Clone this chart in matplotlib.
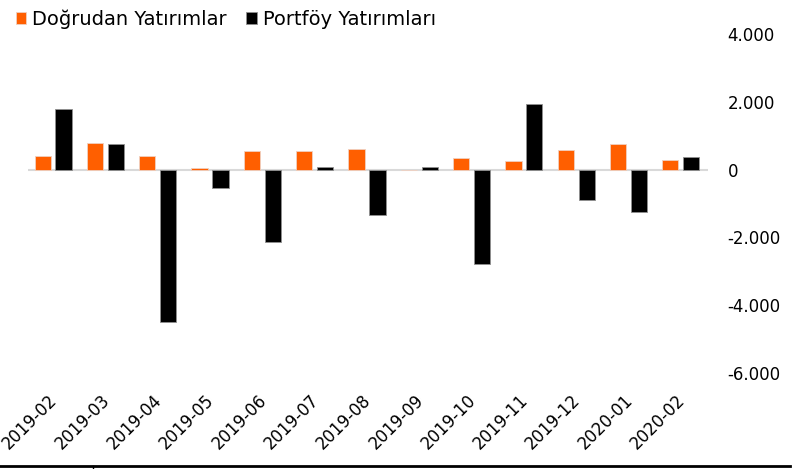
import numpy as np
import matplotlib.pyplot as plt
from matplotlib.lines import Line2D
from matplotlib.ticker import FuncFormatter
from matplotlib.transforms import ScaledTranslation

months = ['2019-02', '2019-03', '2019-04', '2019-05', '2019-06', '2019-07', '2019-08',
          '2019-09', '2019-10', '2019-11', '2019-12', '2020-01', '2020-02']
dogrudan = [410, 790, 410, 60, 560, 560, 620, 0, 350, 260, 590, 760, 290]
portfoy = [1790, 760, -4500, -530, -2150, 90, -1350, 90, -2790, 1940, -910, -1240, 380]

fig = plt.figure(figsize=(7.98, 4.69), dpi=100)
ax = fig.add_axes([28/798, 1-373/469, (708-28)/798, (373-34)/469])

x = np.arange(len(months))
w = 0.31
ax.bar(x - 0.2, dogrudan, w, color='#ff5f00', edgecolor='#f0d0c0', linewidth=0.6,
       label='Doğrudan Yatırımlar', zorder=3)
ax.bar(x + 0.2, portfoy, w, color='black', edgecolor='#909090', linewidth=0.6,
       label='Portföy Yatırımları', zorder=3)
ax.axhline(0, color='#d9d9d9', linewidth=1.5, zorder=2)

ax.set_xlim(-0.48, 12.52)
ax.set_ylim(-6000, 4000)
ax.set_yticks([-6000, -4000, -2000, 0, 2000, 4000])
ax.yaxis.set_major_formatter(FuncFormatter(lambda v, p: f'{int(v):,}'.replace(',', '.')))
ax.yaxis.tick_right()
ax.tick_params(axis='y', length=0, pad=14, labelsize=12)
ax.set_xticks(x)
ax.set_xticklabels(months, rotation=45, ha='right', rotation_mode='anchor', fontsize=12)
ax.tick_params(axis='x', length=0, pad=13)
# nudge the rotated labels a little to the left
shift = ScaledTranslation(-5/100, 0, fig.dpi_scale_trans)
for lbl in ax.get_xticklabels():
    lbl.set_transform(lbl.get_transform() + shift)
for s in ax.spines.values():
    s.set_visible(False)

fig.legend(loc='upper left', bbox_to_anchor=(0.005, 1.005), ncol=2, frameon=False,
           fontsize=14, handlelength=0.55, handleheight=0.55, handletextpad=0.3,
           columnspacing=1.0, borderaxespad=0.2)

fig.add_artist(Line2D([0, 790/798], [3.5/469, 3.5/469], color='black', linewidth=2))
fig.add_artist(Line2D([93/798, 93/798], [0, 3/469], color='black', linewidth=1))

fig.savefig('out.png', dpi=100)
